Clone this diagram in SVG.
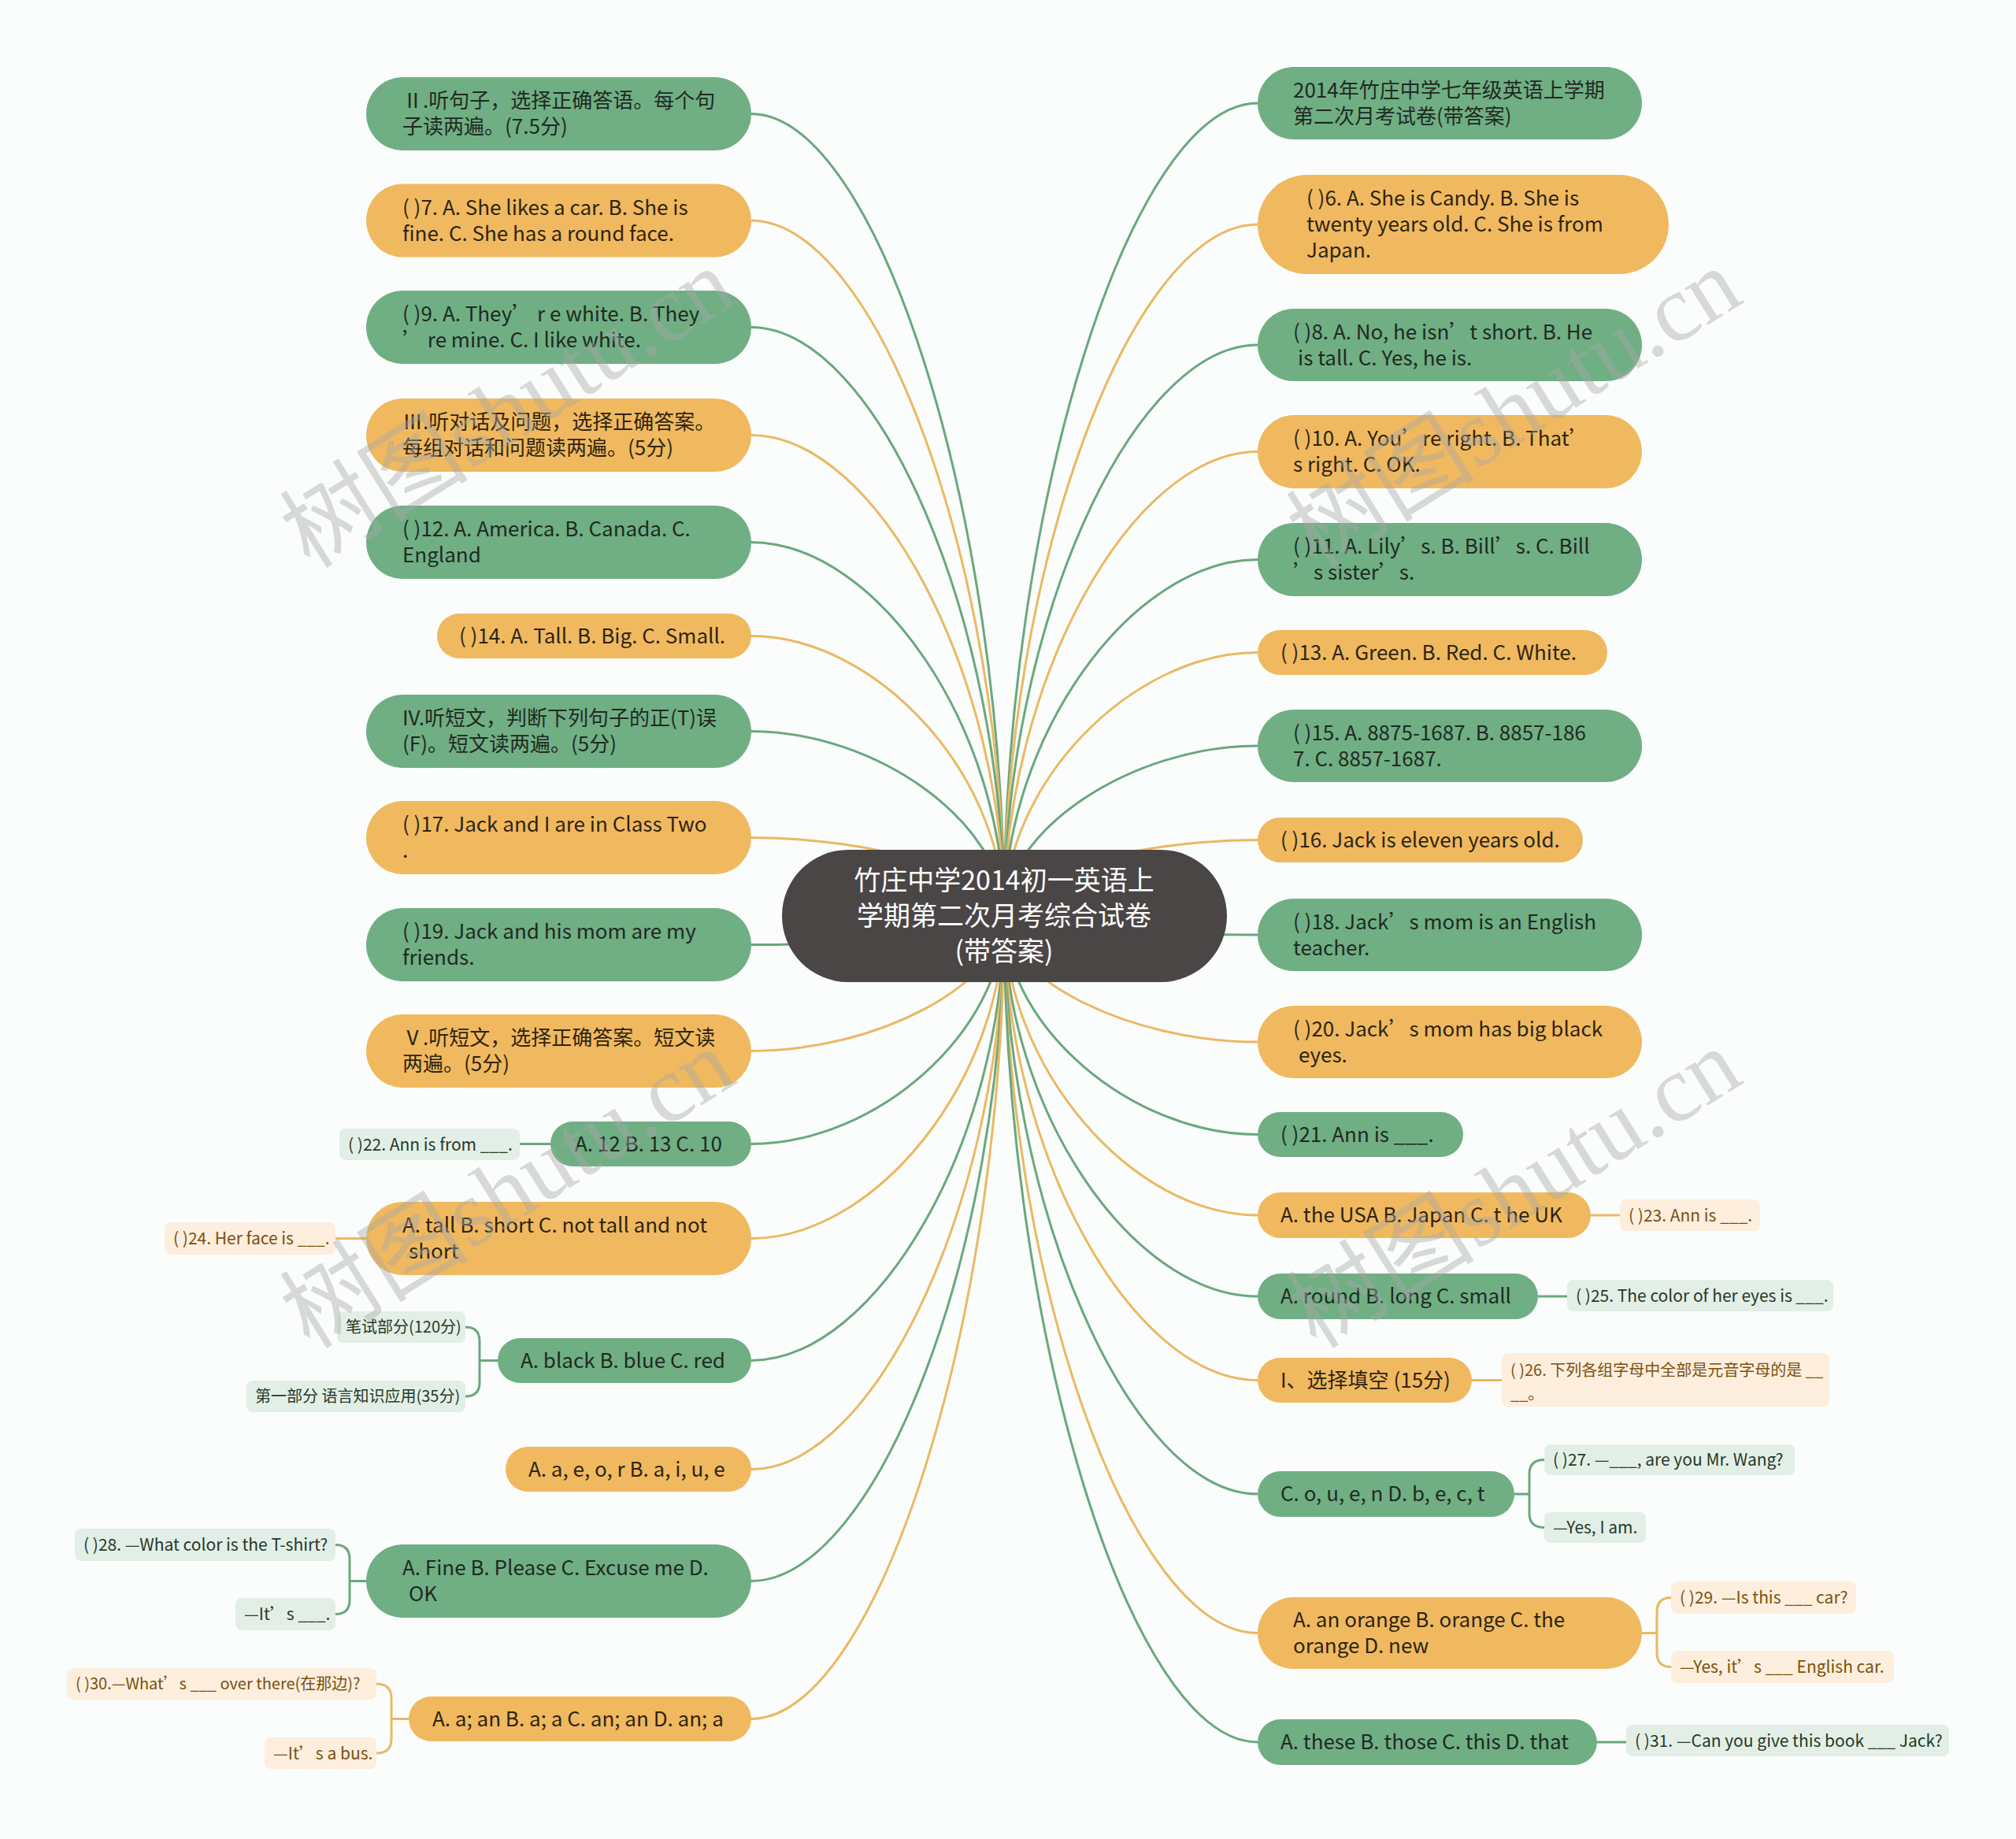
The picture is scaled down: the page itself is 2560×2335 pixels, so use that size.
<svg xmlns="http://www.w3.org/2000/svg" width="2560" height="2335" viewBox="0 0 2560 2335">
<style>
text{font-family:"Noto Sans CJK SC","Noto Sans",sans-serif;}
.g{fill:#70ae84;}
.o{fill:#f0b95f;}
.cg{fill:#e3efe6;}
.co{fill:#fdeedd;}
.t{font-size:26px;}
.tg{fill:#1f2a22;}
.to{fill:#2e2412;}
.ct{font-size:21px;}
.cz{font-size:20px;}
.ctg{fill:#26382b;}
.cto{fill:#7b500e;}
.lg{fill:none;stroke:#6aa77f;stroke-width:3;}
.lo{fill:none;stroke:#ebb863;stroke-width:3;}
.wm{font-family:"Liberation Serif","Noto Sans CJK SC",serif;font-size:120px;fill:#a8a8a8;opacity:0.42;}
</style>
<rect width="2560" height="2335" fill="#fafdfb"/>
<g id="connectors">
<path class="lg" d="M1275,1163 C1275,653.75 1114.25,144.5 953.5,144.5"/>
<path class="lo" d="M1275,1163 C1275,721.5 1114.25,280 953.5,280"/>
<path class="lg" d="M1275,1163 C1275,789.25 1114.25,415.5 953.5,415.5"/>
<path class="lo" d="M1275,1163 C1275,857.75 1114.25,552.5 953.5,552.5"/>
<path class="lg" d="M1275,1163 C1275,925.75 1114.25,688.5 953.5,688.5"/>
<path class="lo" d="M1275,1163 C1275,985.25 1114.25,807.5 953.5,807.5"/>
<path class="lg" d="M1275,1163 C1275,1045.75 1114.25,928.5 953.5,928.5"/>
<path class="lo" d="M1275,1163 C1275,1113.25 1114.25,1063.5 953.5,1063.5"/>
<path class="lg" d="M1275,1163 C1275,1181.25 1114.25,1199.5 953.5,1199.5"/>
<path class="lo" d="M1275,1163 C1275,1248.75 1114.25,1334.5 953.5,1334.5"/>
<path class="lg" d="M1275,1163 C1275,1307.75 1114.25,1452.5 953.5,1452.5"/>
<path class="lo" d="M1275,1163 C1275,1367.75 1114.25,1572.5 953.5,1572.5"/>
<path class="lg" d="M1275,1163 C1275,1445.25 1114.25,1727.5 953.5,1727.5"/>
<path class="lo" d="M1275,1163 C1275,1514.25 1114.25,1865.5 953.5,1865.5"/>
<path class="lg" d="M1275,1163 C1275,1585.25 1114.25,2007.5 953.5,2007.5"/>
<path class="lo" d="M1275,1163 C1275,1672.75 1114.25,2182.5 953.5,2182.5"/>
<path class="lg" d="M1275,1163 C1275,647 1436,131 1597,131"/>
<path class="lo" d="M1275,1163 C1275,724 1436,285 1597,285"/>
<path class="lg" d="M1275,1163 C1275,800.5 1436,438 1597,438"/>
<path class="lo" d="M1275,1163 C1275,868.25 1436,573.5 1597,573.5"/>
<path class="lg" d="M1275,1163 C1275,936.75 1436,710.5 1597,710.5"/>
<path class="lo" d="M1275,1163 C1275,995.75 1436,828.5 1597,828.5"/>
<path class="lg" d="M1275,1163 C1275,1055 1436,947 1597,947"/>
<path class="lo" d="M1275,1163 C1275,1114.75 1436,1066.5 1597,1066.5"/>
<path class="lg" d="M1275,1163 C1275,1175 1436,1187 1597,1187"/>
<path class="lo" d="M1275,1163 C1275,1243 1436,1323 1597,1323"/>
<path class="lg" d="M1275,1163 C1275,1301.75 1436,1440.5 1597,1440.5"/>
<path class="lo" d="M1275,1163 C1275,1353 1436,1543 1597,1543"/>
<path class="lg" d="M1275,1163 C1275,1404.5 1436,1646 1597,1646"/>
<path class="lo" d="M1275,1163 C1275,1457.75 1436,1752.5 1597,1752.5"/>
<path class="lg" d="M1275,1163 C1275,1530 1436,1897 1597,1897"/>
<path class="lo" d="M1275,1163 C1275,1618.25 1436,2073.5 1597,2073.5"/>
<path class="lg" d="M1275,1163 C1275,1687.5 1436,2212 1597,2212"/>
<path class="lg" d="M699,1452.5 H660"/>
<path class="lo" d="M465,1572.5 H426"/>
<path class="lg" d="M632,1727.5 H609 M591,1685 Q609,1685 609,1703 V1755 Q609,1773 591,1773"/>
<path class="lg" d="M465,2007.5 H444 M426,1961.5 Q444,1961.5 444,1979.5 V2031.5 Q444,2049.5 426,2049.5"/>
<path class="lo" d="M519,2182.5 H497 M478,2138 Q497,2138 497,2156 V2208 Q497,2226 478,2226"/>
<path class="lo" d="M2020,1543 H2057"/>
<path class="lg" d="M1953,1646 H1990"/>
<path class="lo" d="M1869,1752.5 H1907"/>
<path class="lg" d="M1923,1897 H1942 M1961,1853.5 Q1942,1853.5 1942,1871.5 V1921.5 Q1942,1939.5 1961,1939.5"/>
<path class="lo" d="M2085,2073.5 H2104 M2122,2028.5 Q2104,2028.5 2104,2046.5 V2098.5 Q2104,2116.5 2122,2116.5"/>
<path class="lg" d="M2028,2212 H2065"/>
</g>
<g id="center">
<rect x="993" y="1079" width="565" height="168" rx="84" fill="#4a4646"/>
<text text-anchor="middle" font-size="34" fill="#ffffff"><tspan x="1275" y="1130">竹庄中学2014初一英语上</tspan><tspan x="1275" y="1175">学期第二次月考综合试卷</tspan><tspan x="1275" y="1220">(带答案)</tspan></text>
</g>
<g id="n-l1"><rect class="g" x="465" y="98" width="489" height="93" rx="46.5"/><text class="t tg"><tspan x="511" y="137">Ⅱ.听句子，选择正确答语。每个句</tspan><tspan x="511" y="170">子读两遍。(7.5分)</tspan></text></g>
<g id="n-l2"><rect class="o" x="465" y="233.5" width="489" height="93" rx="46.5"/><text class="t to"><tspan x="511" y="272.5">( )7. A. She likes a car. B. She is</tspan><tspan x="511" y="305.5">fine. C. She has a round face.</tspan></text></g>
<g id="n-l3"><rect class="g" x="465" y="369" width="489" height="93" rx="46.5"/><text class="t tg"><tspan x="511" y="408">( )9. A. They’ r e white. B. They</tspan><tspan x="511" y="441">’ re mine. C. I like white.</tspan></text></g>
<g id="n-l4"><rect class="o" x="465" y="506" width="489" height="93" rx="46.5"/><text class="t to"><tspan x="511" y="545">Ⅲ.听对话及问题，选择正确答案。</tspan><tspan x="511" y="578">每组对话和问题读两遍。(5分)</tspan></text></g>
<g id="n-l5"><rect class="g" x="465" y="642" width="489" height="93" rx="46.5"/><text class="t tg"><tspan x="511" y="681">( )12. A. America. B. Canada. C.</tspan><tspan x="511" y="714">England</tspan></text></g>
<g id="n-l6"><rect class="o" x="555" y="779" width="399" height="57" rx="28.5"/><text class="t to" x="583" y="816.5">( )14. A. Tall. B. Big. C. Small.</text></g>
<g id="n-l7"><rect class="g" x="465" y="882" width="489" height="93" rx="46.5"/><text class="t tg"><tspan x="511" y="921">IV.听短文，判断下列句子的正(T)误</tspan><tspan x="511" y="954">(F)。短文读两遍。(5分)</tspan></text></g>
<g id="n-l8"><rect class="o" x="465" y="1017" width="489" height="93" rx="46.5"/><text class="t to"><tspan x="511" y="1056">( )17. Jack and I are in Class Two</tspan><tspan x="511" y="1089">.</tspan></text></g>
<g id="n-l9"><rect class="g" x="465" y="1153" width="489" height="93" rx="46.5"/><text class="t tg"><tspan x="511" y="1192">( )19. Jack and his mom are my</tspan><tspan x="511" y="1225">friends.</tspan></text></g>
<g id="n-l10"><rect class="o" x="465" y="1288" width="489" height="93" rx="46.5"/><text class="t to"><tspan x="511" y="1327">Ⅴ.听短文，选择正确答案。短文读</tspan><tspan x="511" y="1360">两遍。(5分)</tspan></text></g>
<g id="n-l11"><rect class="g" x="699" y="1424" width="255" height="57" rx="28.5"/><text class="t tg" x="730" y="1461.5">A. 12 B. 13 C. 10</text></g>
<g id="n-l12"><rect class="o" x="465" y="1526" width="489" height="93" rx="46.5"/><text class="t to"><tspan x="511" y="1565">A. tall B. short C. not tall and not</tspan><tspan x="519" y="1598">short</tspan></text></g>
<g id="n-l13"><rect class="g" x="632" y="1699" width="322" height="57" rx="28.5"/><text class="t tg" x="661" y="1736.5">A. black B. blue C. red</text></g>
<g id="n-l14"><rect class="o" x="642" y="1837" width="312" height="57" rx="28.5"/><text class="t to" x="671" y="1874.5">A. a, e, o, r B. a, i, u, e</text></g>
<g id="n-l15"><rect class="g" x="465" y="1961" width="489" height="93" rx="46.5"/><text class="t tg"><tspan x="511" y="2000">A. Fine B. Please C. Excuse me D.</tspan><tspan x="519" y="2033">OK</tspan></text></g>
<g id="n-l16"><rect class="o" x="519" y="2154" width="435" height="57" rx="28.5"/><text class="t to" x="549" y="2191.5">A. a; an B. a; a C. an; an D. an; a</text></g>
<g id="c-22"><rect class="cg" x="431" y="1433" width="229" height="40" rx="8"/><text class="ct ctg" x="442" y="1460.5">( )22. Ann is from ___.</text></g>
<g id="c-24"><rect class="co" x="209" y="1552" width="217" height="41" rx="8"/><text class="ct cto" x="220" y="1580">( )24. Her face is ___.</text></g>
<g id="c-bishi"><rect class="cg" x="428" y="1665" width="163" height="40" rx="8"/><text class="cz ctg" x="439" y="1692">笔试部分(120分)</text></g>
<g id="c-diyi"><rect class="cg" x="313" y="1753" width="278" height="40" rx="8"/><text class="cz ctg" x="324" y="1780">第一部分 语言知识应用(35分)</text></g>
<g id="c-28"><rect class="cg" x="95" y="1941" width="331" height="41" rx="8"/><text class="ct ctg" x="106" y="1969">( )28. —What color is the T-shirt?</text></g>
<g id="c-28b"><rect class="cg" x="299" y="2029" width="127" height="41" rx="8"/><text class="ct ctg" x="310" y="2057">—It’s ___.</text></g>
<g id="c-30"><rect class="co" x="85" y="2118" width="393" height="40" rx="8"/><text class="cz cto" x="96" y="2145">( )30.—What’s ___ over there(在那边)?</text></g>
<g id="c-30b"><rect class="co" x="336" y="2206" width="142" height="40" rx="8"/><text class="ct cto" x="347" y="2233.5">—It’s a bus.</text></g>
<g id="n-r1"><rect class="g" x="1597" y="85" width="488" height="92" rx="46"/><text class="t tg"><tspan x="1642" y="123.5">2014年竹庄中学七年级英语上学期</tspan><tspan x="1642" y="156.5">第二次月考试卷(带答案)</tspan></text></g>
<g id="n-r2"><rect class="o" x="1597" y="222" width="522" height="126" rx="63"/><text class="t to"><tspan x="1659" y="261">( )6. A. She is Candy. B. She is</tspan><tspan x="1659" y="294">twenty years old. C. She is from</tspan><tspan x="1659" y="327">Japan.</tspan></text></g>
<g id="n-r3"><rect class="g" x="1597" y="392" width="488" height="92" rx="46"/><text class="t tg"><tspan x="1642" y="430.5">( )8. A. No, he isn’t short. B. He</tspan><tspan x="1648" y="463.5">is tall. C. Yes, he is.</tspan></text></g>
<g id="n-r4"><rect class="o" x="1597" y="527" width="488" height="93" rx="46.5"/><text class="t to"><tspan x="1642" y="566">( )10. A. You’re right. B. That’</tspan><tspan x="1642" y="599">s right. C. OK.</tspan></text></g>
<g id="n-r5"><rect class="g" x="1597" y="664" width="488" height="93" rx="46.5"/><text class="t tg"><tspan x="1642" y="703">( )11. A. Lily’s. B. Bill’s. C. Bill</tspan><tspan x="1642" y="736">’s sister’s.</tspan></text></g>
<g id="n-r6"><rect class="o" x="1597" y="800" width="444" height="57" rx="28.5"/><text class="t to" x="1626" y="837.5">( )13. A. Green. B. Red. C. White.</text></g>
<g id="n-r7"><rect class="g" x="1597" y="901" width="488" height="92" rx="46"/><text class="t tg"><tspan x="1642" y="939.5">( )15. A. 8875-1687. B. 8857-186</tspan><tspan x="1642" y="972.5">7. C. 8857-1687.</tspan></text></g>
<g id="n-r8"><rect class="o" x="1597" y="1038" width="413" height="57" rx="28.5"/><text class="t to" x="1626" y="1075.5">( )16. Jack is eleven years old.</text></g>
<g id="n-r9"><rect class="g" x="1597" y="1141" width="488" height="92" rx="46"/><text class="t tg"><tspan x="1642" y="1179.5">( )18. Jack’s mom is an English</tspan><tspan x="1642" y="1212.5">teacher.</tspan></text></g>
<g id="n-r10"><rect class="o" x="1597" y="1277" width="488" height="92" rx="46"/><text class="t to"><tspan x="1642" y="1315.5">( )20. Jack’s mom has big black</tspan><tspan x="1649" y="1348.5">eyes.</tspan></text></g>
<g id="n-r11"><rect class="g" x="1597" y="1412" width="261" height="57" rx="28.5"/><text class="t tg" x="1626" y="1449.5">( )21. Ann is ___.</text></g>
<g id="n-r12"><rect class="o" x="1597" y="1514" width="423" height="58" rx="29"/><text class="t to" x="1626" y="1552">A. the USA B. Japan C. t he UK</text></g>
<g id="n-r13"><rect class="g" x="1597" y="1617" width="356" height="58" rx="29"/><text class="t tg" x="1626" y="1655">A. round B. long C. small</text></g>
<g id="n-r14"><rect class="o" x="1597" y="1724" width="272" height="57" rx="28.5"/><text class="t to" x="1626" y="1761.5">I、选择填空 (15分)</text></g>
<g id="n-r15"><rect class="g" x="1597" y="1868" width="326" height="58" rx="29"/><text class="t tg" x="1626" y="1906">C. o, u, e, n D. b, e, c, t</text></g>
<g id="n-r16"><rect class="o" x="1597" y="2028" width="488" height="91" rx="45.5"/><text class="t to"><tspan x="1642" y="2066">A. an orange B. orange C. the</tspan><tspan x="1642" y="2099">orange D. new</tspan></text></g>
<g id="n-r17"><rect class="g" x="1597" y="2183" width="431" height="58" rx="29"/><text class="t tg" x="1626" y="2221">A. these B. those C. this D. that</text></g>
<g id="c-23"><rect class="co" x="2057" y="1523" width="178" height="40" rx="8"/><text class="ct cto" x="2068" y="1550.5">( )23. Ann is ___.</text></g>
<g id="c-25"><rect class="cg" x="1990" y="1625" width="338" height="40" rx="8"/><text class="ct ctg" x="2001" y="1652.5">( )25. The color of her eyes is ___.</text></g>
<g id="c-26"><rect class="co" x="1907" y="1718" width="416" height="68" rx="8"/><text class="cz cto"><tspan x="1918" y="1747">( )26. 下列各组字母中全部是元音字母的是 __</tspan><tspan x="1918" y="1777">__。</tspan></text></g>
<g id="c-27"><rect class="cg" x="1961" y="1834" width="318" height="39" rx="8"/><text class="ct ctg" x="1972" y="1861">( )27. —___, are you Mr. Wang?</text></g>
<g id="c-27b"><rect class="cg" x="1961" y="1920" width="129" height="39" rx="8"/><text class="ct ctg" x="1972" y="1947">—Yes, I am.</text></g>
<g id="c-29"><rect class="co" x="2122" y="2008" width="235" height="41" rx="8"/><text class="ct cto" x="2133" y="2036">( )29. —Is this ___ car?</text></g>
<g id="c-29b"><rect class="co" x="2122" y="2096" width="283" height="41" rx="8"/><text class="ct cto" x="2133" y="2124">—Yes, it’s ___ English car.</text></g>
<g id="c-31"><rect class="cg" x="2065" y="2190" width="410" height="40" rx="8"/><text class="ct ctg" x="2076" y="2217.5">( )31. —Can you give this book ___ Jack?</text></g>
<g id="watermarks">
<text class="wm" text-anchor="middle" transform="translate(645,519) rotate(-32)" y="40">树图shutu.cn</text>
<text class="wm" text-anchor="middle" transform="translate(1923,519) rotate(-32)" y="40">树图shutu.cn</text>
<text class="wm" text-anchor="middle" transform="translate(645,1510) rotate(-32)" y="40">树图shutu.cn</text>
<text class="wm" text-anchor="middle" transform="translate(1923,1510) rotate(-32)" y="40">树图shutu.cn</text>
</g>
</svg>
